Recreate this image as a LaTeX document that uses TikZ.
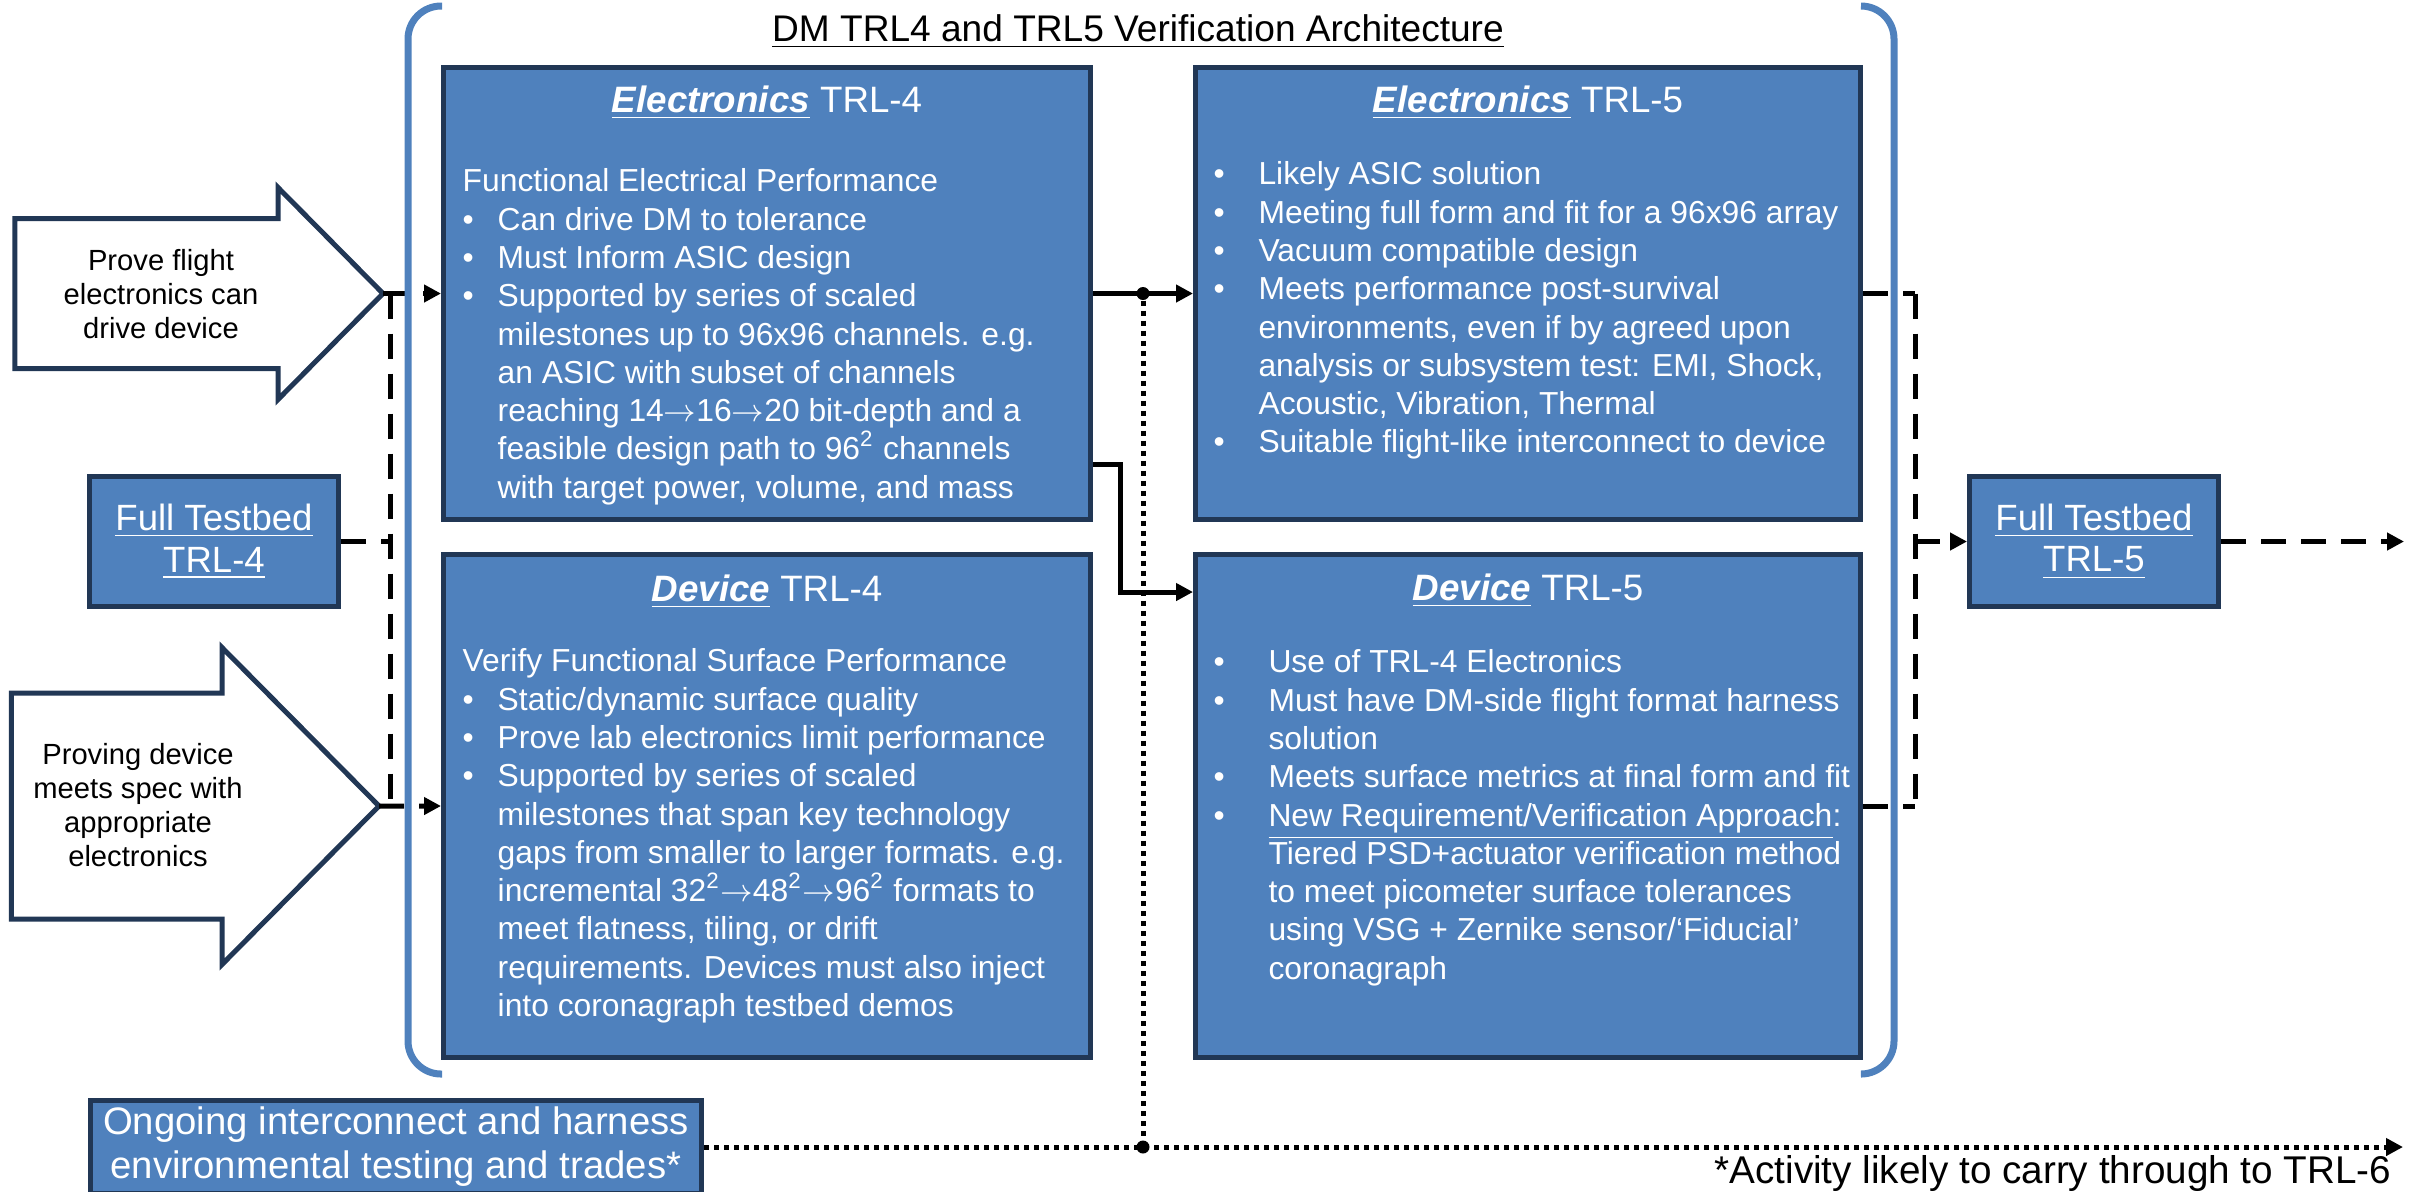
\documentclass[tikz,border=0pt]{standalone}
\usepackage{fontspec}
\setmainfont{Liberation Sans}
\usetikzlibrary{positioning, calc, arrows.meta}

\definecolor{boxblue}{RGB}{79,129,189}
\definecolor{boxedge}{RGB}{33,55,85}
\newcommand{\bitem}[1][0.35cm]{\makebox[#1][l]{\textbullet}}
\newcommand{\bcont}[1][0.35cm]{\hspace*{#1}}
\newcommand{\tto}{\ensuremath{\rightarrow}}

\begin{document}
\begin{tikzpicture}[
		node distance=0.30cm and 1.00cm,
		box/.style={rectangle, draw=boxedge, line width=0.05cm, fill=boxblue, text=white, inner sep=0pt},
		boxtitle/.style={anchor=base, text=white, inner sep=0pt, font=\fontsize{10.45}{12.5}\selectfont},
		boxbody/.style={anchor=north west, text=white, align=left, inner sep=0pt, font=\fontsize{9.05}{10.9}\selectfont},
		testbed/.style={box, minimum width=2.49cm, minimum height=1.30cm, align=center, font=\fontsize{10.4}{11.9}\selectfont},
		bigarrow/.style={draw=boxedge, line width=0.05cm, fill=white},
		arrowtext/.style={align=center, inner sep=0pt, font=\fontsize{8.3}{9.75}\selectfont},
		bracket/.style={draw=boxblue, line width=0.07cm, rounded corners=0.33cm},
		arrow/.style={line width=0.05cm, -{Triangle[length=0.17cm, width=0.17cm]}},
		dline/.style={line width=0.05cm, dash pattern=on 0.25cm off 0.15cm},
		dotline/.style={line width=0.05cm, dash pattern=on 0.05cm off 0.05cm},
		junction/.style={circle, fill=black, inner sep=0pt, minimum size=0.13cm}
		]
		\useasboundingbox (0,0) rectangle (24.10,-11.91);
		
		% Title
		\node[anchor=base, inner sep=0pt, font=\fontsize{10.55}{12}\selectfont] (title) at (11.38,-0.41) {\underline{DM TRL4 and TRL5 Verification Architecture}};
		
		% Nodes
		\node[box, minimum width=6.47cm, minimum height=4.52cm] (E4) at (7.67,-2.935) {};
		\node[box, minimum width=6.47cm, minimum height=5.03cm, below=of E4] (D4) {};
		\node[box, minimum width=6.65cm, minimum height=4.52cm, right=of E4] (E5) {};
		\node[box, minimum width=6.65cm, minimum height=5.03cm, below=of E5] (D5) {};
		
		\node[boxtitle] (E4h) at ([yshift=-0.47cm]E4.north) {\underline{\textbf{\textit{Electronics}}} TRL-4};
		\node[boxtitle] (D4h) at ([yshift=-0.49cm]D4.north) {\underline{\textbf{\textit{Device}}} TRL-4};
		\node[boxtitle] (E5h) at ([yshift=-0.47cm]E5.north) {\underline{\textbf{\textit{Electronics}}} TRL-5};
		\node[boxtitle] (D5h) at ([yshift=-0.48cm]D5.north) {\underline{\textbf{\textit{Device}}} TRL-5};
		
		\node[boxbody] (E4b) at ([shift={(0.21,-1.03)}]E4.north west) {Functional Electrical Performance\\
			\bitem Can drive DM to tolerance\\
			\bitem Must Inform ASIC design\\
			\bitem Supported by series of scaled\\
			\bcont milestones up to 96x96 channels. e.g.\\
			\bcont an ASIC with subset of channels\\
			\bcont reaching 14\tto16\tto20 bit-depth and a\\
			\bcont feasible design path to 96\textsuperscript{2} channels\\
			\bcont with target power, volume, and mass};
		\node[boxbody] (D4b) at ([shift={(0.21,-0.96)}]D4.north west) {Verify Functional Surface Performance\\
			\bitem Static/dynamic surface quality\\
			\bitem Prove lab electronics limit performance\\
			\bitem Supported by series of scaled\\
			\bcont milestones that span key technology\\
			\bcont gaps from smaller to larger formats. e.g.\\
			\bcont incremental 32\textsuperscript{2}\tto48\textsuperscript{2}\tto96\textsuperscript{2} formats to\\
			\bcont meet flatness, tiling, or drift\\
			\bcont requirements. Devices must also inject\\
			\bcont into coronagraph testbed demos};
		\node[boxbody] (E5b) at ([shift={(0.20,-0.96)}]E5.north west) {\bitem[0.36cm] Likely ASIC solution\\
			\bitem[0.36cm] Meeting full form and fit for a 96x96 array\\
			\bitem[0.36cm] Vacuum compatible design\\
			\bitem[0.36cm] Meets performance post-survival\\
			\bcont[0.36cm] environments, even if by agreed upon\\
			\bcont[0.36cm] analysis or subsystem test: EMI, Shock,\\
			\bcont[0.36cm] Acoustic, Vibration, Thermal\\
			\bitem[0.36cm] Suitable flight-like interconnect to device};
		\node[boxbody] (D5b) at ([shift={(0.20,-0.97)}]D5.north west) {\bitem[0.46cm] Use of TRL-4 Electronics\\
			\bitem[0.46cm] Must have DM-side flight format harness\\
			\bcont[0.46cm] solution\\
			\bitem[0.46cm] Meets surface metrics at final form and fit\\
			\bitem[0.46cm] \underline{New Requirement/Verification Approach}:\\
			\bcont[0.46cm] Tiered PSD+actuator verification method\\
			\bcont[0.46cm] to meet picometer surface tolerances\\
			\bcont[0.46cm] using VSG + Zernike sensor/`Fiducial'\\
			\bcont[0.46cm] coronagraph};
		
		\node[testbed] (FT4) at (2.14,-5.415) {\underline{Full Testbed}\\\underline{TRL-4}};
		\node[testbed] (FT5) at (20.94,-5.415) {\underline{Full Testbed}\\\underline{TRL-5}};
		
		% Block arrows on the left
		\coordinate (A1) at (3.83,-2.935);
		\coordinate (A2) at (3.79,-8.06);
		\draw[bigarrow] (A1) -- ++(-1.05,1.06) -- ++(0,-0.31) -- ++(-2.63,0) -- ++(0,-1.50) -- ++(2.63,0) -- ++(0,-0.31) -- cycle;
		\node[arrowtext] (A1t) at (1.61,-2.94) {Prove flight\\electronics can\\drive device};
		\draw[bigarrow] (A2) -- ++(-1.57,1.585) -- ++(0,-0.455) -- ++(-2.105,0) -- ++(0,-2.26) -- ++(2.105,0) -- ++(0,-0.455) -- cycle;
		\node[arrowtext] (A2t) at (1.38,-8.05) {Proving device\\meets spec with\\appropriate\\electronics};
		
		\node[box, minimum width=6.11cm, minimum height=0.93cm, align=center, font=\fontsize{10.9}{12.5}\selectfont] (ON) at (3.96,-11.47) {Ongoing interconnect and harness\\environmental testing and trades*};
		\node[anchor=base east, inner sep=0pt, font=\fontsize{11}{13}\selectfont] (note) at (23.92,-11.83) {*Activity likely to carry through to TRL-6};
		
		\coordinate (jl1) at ([xshift=-0.51cm]E4.west);
		\coordinate (jl2) at ([xshift=-0.51cm]D4.west);
		\coordinate (jr1) at ([xshift=0.52cm]E5.east);
		\coordinate (jr2) at ([xshift=0.52cm]D5.east);
		\coordinate (out5) at (24.04,-5.415);
		\coordinate (out6) at (24.03,-11.47);
		
		% Edges
		\draw[dline, arrow] (A1) -- (E4.west);
		\draw[dline, arrow] (A2) -- (D4.west);
		\draw[dline] (FT4.east) -- (FT4.east -| jl1);
		\draw[dline] (jl1) -- (jl2);
		
		\draw[arrow] (E4) -- (E5);
		\draw[arrow] ([yshift=-1.705cm]E4.east) -- ++(0.27,0) |- ([yshift=2.14cm]D5.west);
		
		\draw[dline] (E5.east) -- (jr1);
		\draw[dline] (D5.east) -- (jr2);
		\draw[dline] (jr1) -- (jr2);
		\draw[dline, arrow] (jr1 |- FT5.west) -- (FT5.west);
		\draw[dline, arrow] (FT5.east) -- (out5);
		
		\node[junction] (dotA) at ($(E4.east)!0.5!(E5.west)$) {};
		\node[junction] (dotB) at (dotA |- ON.east) {};
		\draw[dotline] (dotA) -- (dotB);
		\draw[dotline, arrow] (ON.east) -- (out6);
		
		% Brackets round the TRL4/TRL5 work
		\draw[bracket] (4.42,-0.06) -- (4.08,-0.06) -- (4.08,-10.74) -- (4.42,-10.74);
		\draw[bracket] (18.61,-0.06) -- (18.94,-0.06) -- (18.94,-10.74) -- (18.62,-10.74);
		
	\end{tikzpicture}
\end{document}
